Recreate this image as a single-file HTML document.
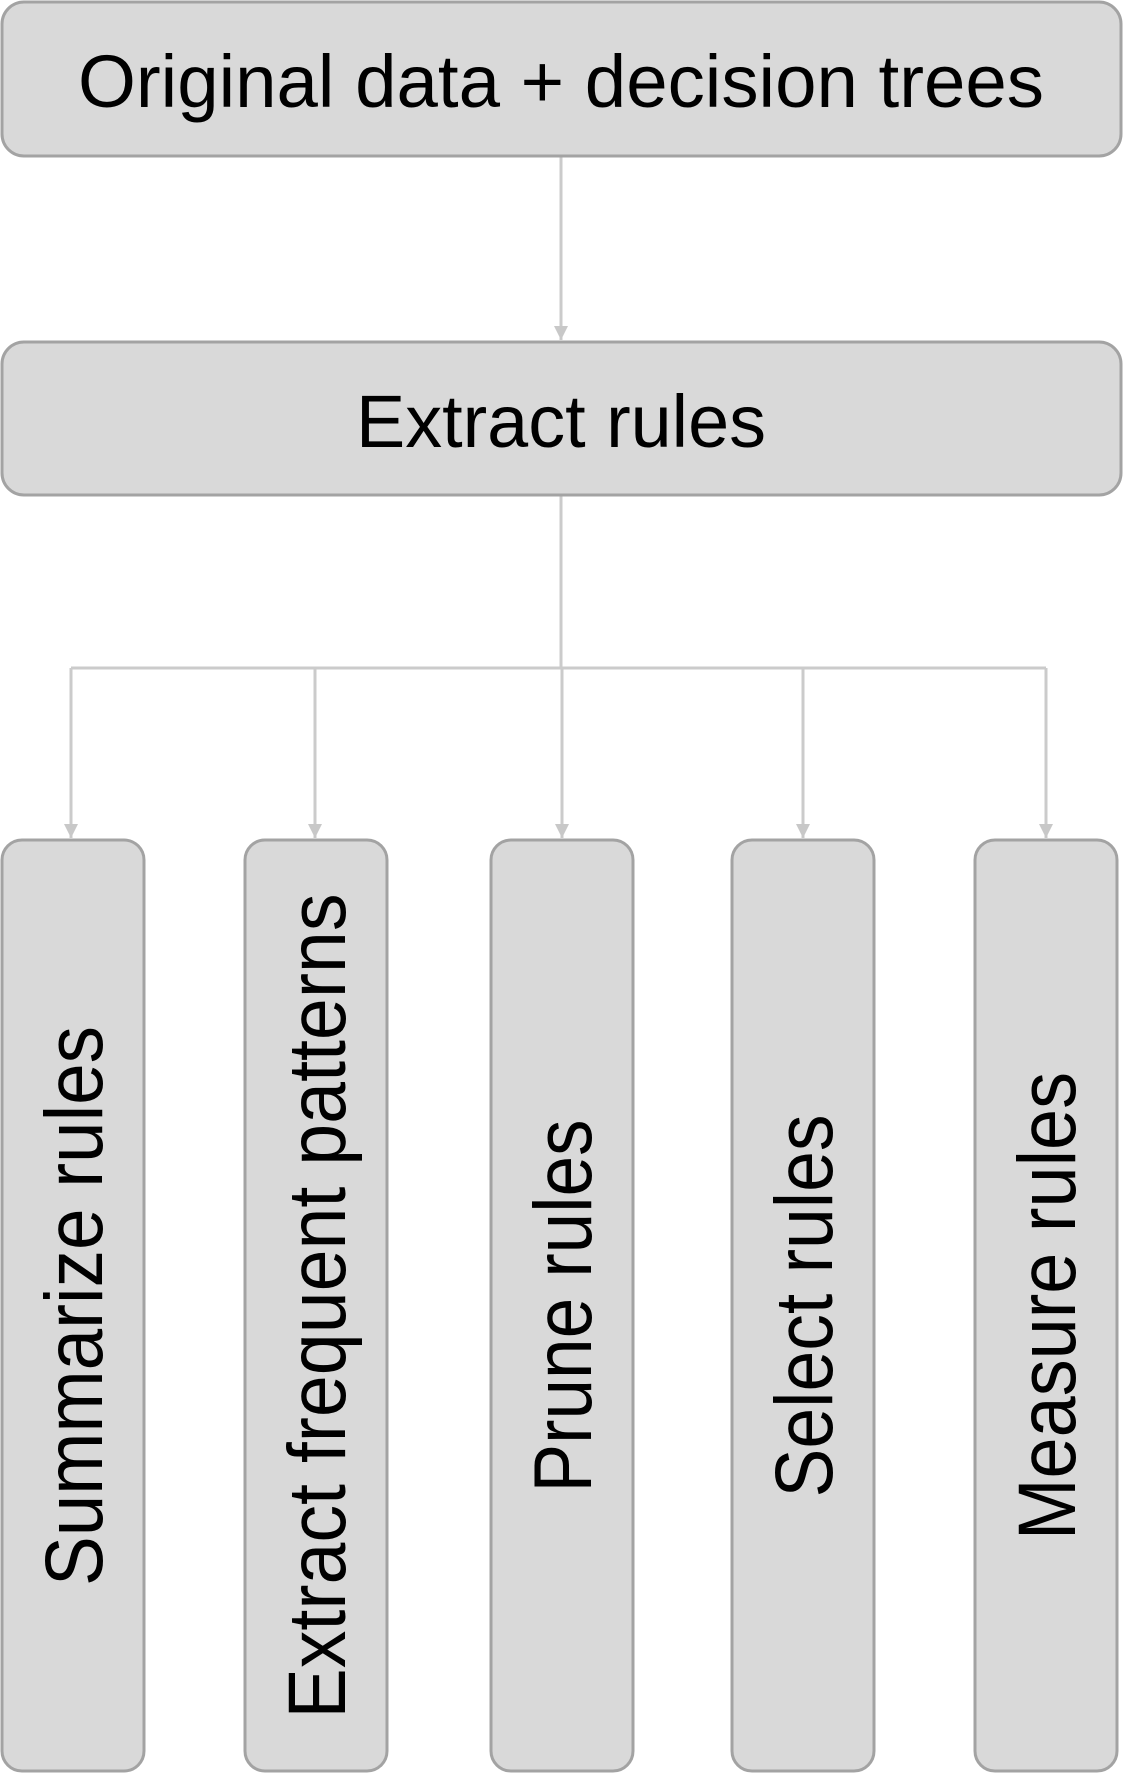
<!DOCTYPE html>
<html><head><meta charset="utf-8"><style>html,body{margin:0;padding:0;background:#fff}svg{display:block}</style></head>
<body>
<svg width="1138" height="1774" viewBox="0 0 1138 1774" xmlns="http://www.w3.org/2000/svg">
<defs>
<marker id="b" viewBox="0 0 10 10" markerWidth="14" markerHeight="14" refX="10" refY="5" orient="auto" markerUnits="userSpaceOnUse"><path d="M0,0 L10,5 L0,10 z" fill="#c8c8c8"/></marker></defs>
<g fill="none" stroke="#cbcbcb" stroke-width="3">
<line x1="561" y1="157" x2="561" y2="340" marker-end="url(#b)"/>
<line x1="561" y1="496" x2="561" y2="668"/>
<line x1="71" y1="668" x2="1046" y2="668"/>
<line x1="71" y1="668" x2="71" y2="838" marker-end="url(#b)"/>
<line x1="315" y1="668" x2="315" y2="838" marker-end="url(#b)"/>
<line x1="562" y1="668" x2="562" y2="838" marker-end="url(#b)"/>
<line x1="803" y1="668" x2="803" y2="838" marker-end="url(#b)"/>
<line x1="1046" y1="668" x2="1046" y2="838" marker-end="url(#b)"/>
</g>
<g fill="#d9d9d9" stroke="#a3a3a3" stroke-width="3">
<rect x="2" y="2" width="1119" height="154" rx="22"/>
<rect x="2" y="342" width="1119" height="153" rx="22"/>
<rect x="2" y="840" width="142" height="931" rx="20"/>
<rect x="245" y="840" width="142" height="931" rx="20"/>
<rect x="491" y="840" width="142" height="931" rx="20"/>
<rect x="732" y="840" width="142" height="931" rx="20"/>
<rect x="975" y="840" width="142" height="931" rx="20"/>
</g>
<g font-family="Liberation Sans, sans-serif" fill="#000" text-anchor="middle">
<text x="561" y="107" font-size="74" textLength="966" lengthAdjust="spacingAndGlyphs">Original data + decision trees</text>
<text x="561" y="447" font-size="74" textLength="410" lengthAdjust="spacingAndGlyphs">Extract rules</text>
<g font-size="82">
<text transform="translate(102,1306) rotate(-90)" textLength="560" lengthAdjust="spacingAndGlyphs">Summarize rules</text>
<text transform="translate(345,1306) rotate(-90)" textLength="825" lengthAdjust="spacingAndGlyphs">Extract frequent patterns</text>
<text transform="translate(591,1306) rotate(-90)" textLength="373" lengthAdjust="spacingAndGlyphs">Prune rules</text>
<text transform="translate(832,1306) rotate(-90)" textLength="383" lengthAdjust="spacingAndGlyphs">Select rules</text>
<text transform="translate(1075,1306) rotate(-90)" textLength="468" lengthAdjust="spacingAndGlyphs">Measure rules</text>
</g>
</g>
</svg>
</body></html>
